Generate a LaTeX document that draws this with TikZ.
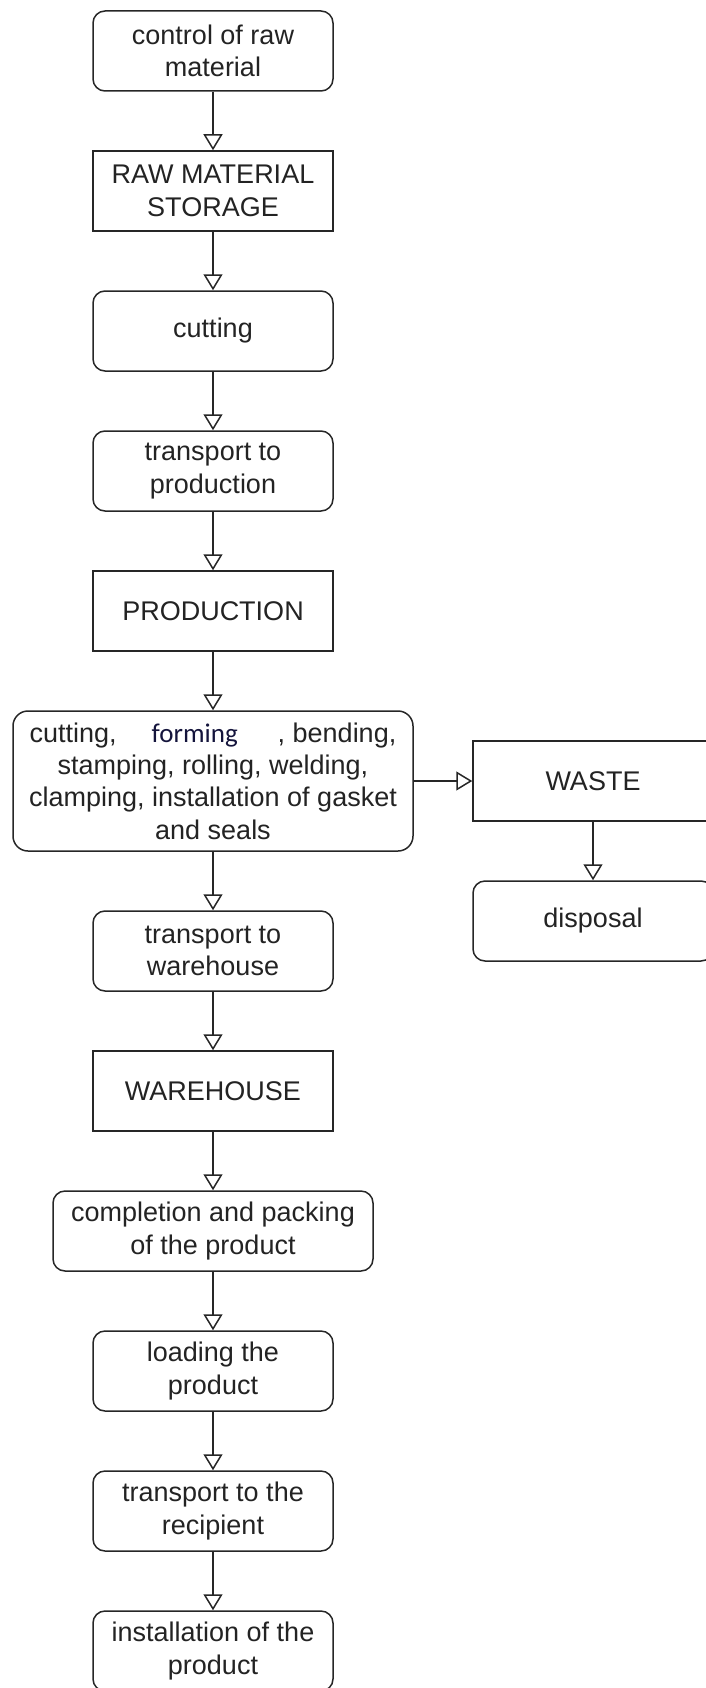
\documentclass[tikz,border=0pt]{standalone}
\usepackage{fontspec}
\setmainfont{Liberation Sans}
\newfontfamily\formfont{Carlito}
\usetikzlibrary{arrows.meta}
\definecolor{txt}{RGB}{35,35,35}
\definecolor{formcol}{RGB}{20,20,60}
\tikzset{
  boxbase/.style={draw=black!85, line width=1.5pt, inner sep=0pt, align=center,
    text=txt, font=\fontsize{27}{32.4}\selectfont, minimum width=240pt, minimum height=80pt},
  rbox/.style={boxbase, rounded corners=12pt},
  sbox/.style={boxbase},
  flow/.style={draw=black!85, line width=1.5pt, -{Triangle[open, length=16pt, width=19pt, line width=1.5pt]}}
}
\begin{document}
\begin{tikzpicture}[x=1pt,y=-1pt]
\useasboundingbox (0,0) rectangle (705,1688);
\node[rbox] (n1) at (213,51) {control of raw\\material};
\node[sbox] (n2) at (213,191) {RAW MATERIAL\\STORAGE};
\node[rbox] (n3) at (213,331) {cutting};
\node[rbox] (n4) at (213,471) {transport to\\production};
\node[sbox] (n5) at (213,611) {PRODUCTION};
\node[rbox, minimum width=400pt, minimum height=140pt, rounded corners=15pt] (n6) at (213,781)
  {cutting,\hspace{35pt}{\formfont\color{formcol}forming}\hspace{40pt}, bending,\\stamping, rolling, welding,\\clamping, installation of gasket\\and seals};
\node[rbox] (n7) at (213,951) {transport to\\warehouse};
\node[sbox] (n8) at (213,1091) {WAREHOUSE};
\node[rbox, minimum width=320pt] (n9) at (213,1231) {completion and packing\\of the product};
\node[rbox] (n10) at (213,1371) {loading the\\product};
\node[rbox] (n11) at (213,1511) {transport to the\\recipient};
\node[rbox] (n12) at (213,1651) {installation of the\\product};
\node[sbox] (w) at (593,781) {WASTE};
\node[rbox] (d) at (593,921) {disposal};
\draw[flow] (n1) -- (n2);
\draw[flow] (n2) -- (n3);
\draw[flow] (n3) -- (n4);
\draw[flow] (n4) -- (n5);
\draw[flow] (n5) -- (n6);
\draw[flow] (n6) -- (n7);
\draw[flow] (n7) -- (n8);
\draw[flow] (n8) -- (n9);
\draw[flow] (n9) -- (n10);
\draw[flow] (n10) -- (n11);
\draw[flow] (n11) -- (n12);
\draw[flow] (n6) -- (w);
\draw[flow] (w) -- (d);
\end{tikzpicture}
\end{document}
